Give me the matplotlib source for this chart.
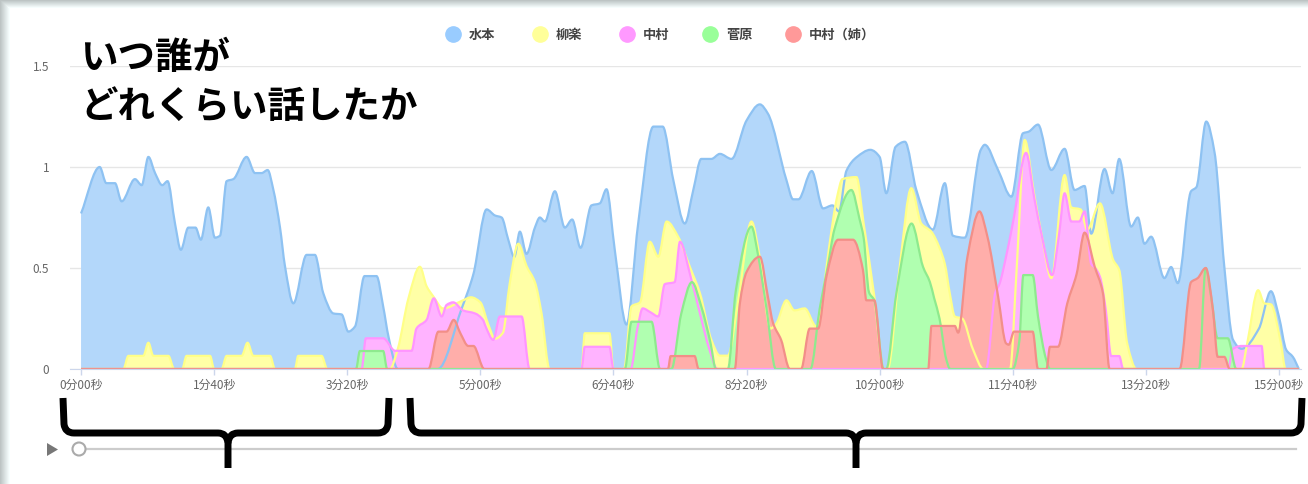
import numpy as np
import matplotlib
matplotlib.use("Agg")
import matplotlib.pyplot as plt
from matplotlib.path import Path
from matplotlib.patches import PathPatch, Rectangle, Polygon, Circle
from matplotlib.lines import Line2D

plt.rcParams['font.family'] = ['Noto Sans CJK JP', 'DejaVu Sans']

# 秒ごとの発話量
names = ['水本', '柳楽', '中村', '菅原', '中村（姉）']

mizumoto_t = [0, 14, 19, 25.5, 30.5, 40.5, 45.6, 50.6, 55.6, 61, 65, 70.6, 75, 80.6, 86, 90, 95.6,
              100.6, 104.4, 109.4, 114.4, 124.4, 130.7, 135.7, 140.2, 144.4, 149.5, 153.2, 159.5,
              169.5, 175.7, 182, 189.6, 195.8, 200.8, 205.8, 213, 222, 227, 231, 238, 268, 286,
              294.8, 304.7, 311, 316, 321, 325.5, 329.7, 334.7, 341, 344.7, 348.5, 356, 363.5, 369,
              375.3, 383.5, 389.8, 394.8, 401, 409.8, 418.6, 430, 437, 445, 453.6, 460, 466, 473.6,
              480, 488.7, 500, 510, 516, 530, 535, 539, 549, 557.5, 564.5, 569.5, 575, 583, 593,
              600, 605, 612, 619, 627.6, 640, 649, 655, 664, 676, 679, 689, 699, 707.7, 712, 719,
              729, 739, 746.5, 754, 759, 769, 775, 780, 789, 794, 799, 804, 814, 819, 824, 834,
              838, 845.4, 851.7, 859, 865.5, 872, 885, 894, 900, 905.5, 910.5, 915]
mizumoto_v = [0.77, 1.00, 0.92, 0.92, 0.83, 0.94, 0.91, 1.05, 0.97, 0.91, 0.93, 0.72, 0.59, 0.70,
              0.70, 0.64, 0.80, 0.65, 0.66, 0.93, 0.94, 1.05, 0.97, 0.97, 0.985, 0.89, 0.70, 0.51,
              0.325, 0.565, 0.565, 0.375, 0.275, 0.27, 0.185, 0.21, 0.46, 0.46, 0.31, 0.16, 0.0,
              0.0, 0.30, 0.47, 0.79, 0.76, 0.75, 0.64, 0.555, 0.68, 0.57, 0.70, 0.75, 0.73, 0.88,
              0.70, 0.74, 0.60, 0.81, 0.82, 0.89, 0.59, 0.22, 0.72, 1.20, 1.20, 0.935, 0.72, 0.886,
              1.04, 1.04, 1.065, 1.04, 1.23, 1.31, 1.265, 0.935, 0.84, 0.84, 0.98, 0.795, 0.81,
              0.78, 0.98, 1.05, 1.085, 1.05, 0.87, 1.10, 1.125, 0.886, 0.69, 0.92, 0.66, 0.65,
              1.085, 1.11, 0.985, 0.853, 1.167, 1.175, 1.21, 0.985, 1.09, 0.886, 0.906, 0.67, 0.99,
              0.87, 1.04, 0.705, 0.75, 0.62, 0.655, 0.45, 0.505, 0.425, 0.88, 0.90, 1.225, 1.07,
              0.505, 0.145, 0.10, 0.20, 0.385, 0.26, 0.095, 0.06, 0.0]

nagira_t = [0, 31.8, 35.6, 46.8, 50.6, 54.3, 65.6, 70, 76, 79.3, 96.9, 100, 105.6, 109.4, 120.7,
            125.1, 129.4, 142, 145.7, 160.7, 163.2, 180.7, 185, 232, 238, 246, 254.6, 259.6, 264.6,
            272, 287, 293, 300, 306, 311, 317, 322, 328.5, 334.7, 341, 346, 352, 376, 378.5, 397,
            400, 408, 413.6, 420, 427.3, 433.7, 440, 448.6, 457.4, 465, 473.6, 480, 486, 494,
            503.7, 510, 518, 522.4, 530, 536, 543.7, 552.5, 556, 562, 568, 572, 582.6, 588, 596,
            603, 606, 615, 623.8, 631.3, 638.8, 645, 649, 652.7, 656.5, 662, 670, 678, 698, 703,
            709, 716, 722, 729, 739, 744, 751, 756, 765.5, 775.5, 780, 786, 793, 872, 876, 884.4,
            889, 894, 901.5, 905, 915]
nagira_v = [0, 0, 0.065, 0.065, 0.13, 0.065, 0.065, 0, 0, 0.065, 0.065, 0, 0, 0.065, 0.065, 0.13,
            0.065, 0.065, 0, 0, 0.065, 0.065, 0, 0, 0.10, 0.35, 0.506, 0.41, 0.36, 0.30, 0.34,
            0.355, 0.33, 0.22, 0.15, 0.18, 0.42, 0.62, 0.51, 0.43, 0.275, 0, 0, 0.177, 0.177, 0,
            0, 0.31, 0.33, 0.63, 0.556, 0.73, 0.655, 0.506, 0.375, 0.144, 0.066, 0.066, 0.35,
            0.73, 0.55, 0.20, 0.226, 0.34, 0.29, 0.30, 0.21, 0.30, 0.60, 0.85, 0.94, 0.95, 0.72,
            0.36, 0, 0, 0.50, 0.895, 0.72, 0.68, 0.60, 0.52, 0.375, 0.26, 0.25, 0.10, 0, 0, 0.5,
            1.134, 0.87, 0.655, 0.45, 0.96, 0.80, 0.79, 0.69, 0.82, 0.54, 0.49, 0.127, 0, 0, 0.12,
            0.39, 0.325, 0.32, 0.127, 0, 0]

nakamura_t = [0, 210.8, 214, 227, 236, 248.4, 252, 259.6, 265, 271, 274.6, 279.6, 287, 296, 302,
              304, 309.7, 314.7, 331, 337, 376, 378.5, 397, 400, 413, 418, 422, 428, 433.7, 438.6,
              446, 450, 457.5, 465, 472, 478, 680, 687, 690, 695, 701, 710, 716, 722, 729.6, 734.6,
              739, 744, 750, 754, 759, 762, 765.5, 770, 774, 780, 783, 862, 865, 872, 887, 889, 915]
nakamura_v = [0, 0, 0.152, 0.152, 0.09, 0.09, 0.20, 0.243, 0.35, 0.26, 0.317, 0.33, 0.29, 0.275,
              0.243, 0.21, 0.144, 0.26, 0.26, 0, 0, 0.11, 0.11, 0, 0, 0.20, 0.30, 0.28, 0.26, 0.42,
              0.43, 0.63, 0.47, 0.275, 0.10, 0, 0, 0.38, 0.42, 0.556, 0.754, 1.07, 0.853, 0.655,
              0.465, 0.655, 0.87, 0.73, 0.73, 0.78, 0.52, 0.50, 0.457, 0.29, 0.064, 0.064, 0, 0,
              0.097, 0.114, 0.114, 0, 0]

sugawara_t = [0, 206.6, 209.5, 227, 230, 408.6, 413.6, 428.6, 435, 443.6, 451, 459, 466, 473, 477,
              486, 492, 503.7, 508.5, 515, 522, 548, 555, 561, 566, 578.8, 585, 588, 592, 596, 603,
              605, 612.6, 624, 632.6, 637.8, 641, 645, 650, 653, 700, 705, 708, 715, 719, 725, 728,
              840, 845, 849, 854, 861.6, 868, 915]
sugawara_v = [0, 0, 0.089, 0.089, 0, 0, 0.234, 0.234, 0, 0, 0.275, 0.43, 0.31, 0.127, 0, 0, 0.39,
              0.705, 0.57, 0.30, 0, 0, 0.30, 0.506, 0.69, 0.886, 0.74, 0.65, 0.38, 0.34, 0, 0,
              0.375, 0.72, 0.506, 0.43, 0.35, 0.25, 0.05, 0, 0, 0.14, 0.465, 0.465, 0.26, 0.05, 0,
              0, 0.50, 0.36, 0.152, 0.152, 0, 0]

nakamura_ane_t = [0, 261, 268.5, 274.6, 280, 285, 291, 294.8, 303, 441, 443, 461, 464, 491.2, 495,
                  500, 510, 516, 520, 526, 532.5, 541, 547.5, 553.8, 560, 568.8, 580, 587.5, 590,
                  596, 602.6, 636.5, 639, 656.5, 659, 666, 675, 681, 689, 695, 697, 701, 715, 719,
                  725.4, 728, 734, 741, 748, 754, 761.6, 767.8, 772.8, 825.4, 834, 839, 845, 850.5,
                  854, 859, 863, 915]
nakamura_ane_v = [0, 0, 0.185, 0.185, 0.243, 0.177, 0.114, 0.114, 0, 0, 0.064, 0.064, 0, 0, 0.325,
                  0.48, 0.556, 0.36, 0.226, 0.144, 0, 0, 0.20, 0.20, 0.457, 0.64, 0.64, 0.49, 0.34,
                  0.34, 0, 0, 0.213, 0.213, 0.18, 0.556, 0.78, 0.655, 0.36, 0.127, 0.12, 0.185,
                  0.185, 0, 0, 0.11, 0.11, 0.325, 0.47, 0.675, 0.506, 0.375, 0, 0, 0.43, 0.45, 0.5,
                  0.29, 0.06, 0.06, 0, 0]

tick_secs = [0, 100, 200, 300, 400, 500, 600, 700, 800, 900]
tick_labels = ['0分00秒', '1分40秒', '3分20秒', '5分00秒', '6分40秒', '8分20秒',
               '10分00秒', '11分40秒', '13分20秒', '15分00秒']

series = [(mizumoto_t, mizumoto_v), (nagira_t, nagira_v), (nakamura_t, nakamura_v),
          (sugawara_t, sugawara_v), (nakamura_ane_t, nakamura_ane_v)]
dot_colors = ['#99ccff', '#ffff99', '#ff99ff', '#99ff99', '#ff9999']
fill_colors = ['#b3d7fa', '#ffffa6', '#ffb3ff', '#b0ffb0', '#ffaeaa']
line_colors = ['#8ec2f2', '#ffff88', '#ff95ff', '#8eea8e', '#f28f88']


def smooth_path(t, v):
    # 単調3次エルミート曲線をベジェに変換（EChartsのsmooth表示に近づける）
    t = np.asarray(t, float)
    v = np.asarray(v, float)
    h = np.diff(t)
    d = np.diff(v) / h
    m = np.zeros_like(v)
    m[0] = d[0]
    m[-1] = d[-1]
    for i in range(1, len(v) - 1):
        if d[i - 1] * d[i] <= 0:
            m[i] = 0
        else:
            w1 = 2 * h[i] + h[i - 1]
            w2 = h[i] + 2 * h[i - 1]
            m[i] = (w1 + w2) / (w1 / d[i - 1] + w2 / d[i])
    verts = [(t[0], v[0])]
    codes = [Path.MOVETO]
    for i in range(len(h)):
        verts += [(t[i] + h[i] / 3, v[i] + m[i] * h[i] / 3),
                  (t[i + 1] - h[i] / 3, v[i + 1] - m[i + 1] * h[i] / 3),
                  (t[i + 1], v[i + 1])]
        codes += [Path.CURVE4] * 3
    return verts, codes


W, H = 1308, 484
fig = plt.figure(figsize=(W / 100, H / 100), dpi=100, facecolor='white')
ax = fig.add_axes([70 / W, (H - 369) / H, 1231 / W, 303 / H])

for (t, v), fc, lc in zip(series, fill_colors, line_colors):
    verts, codes = smooth_path(t, v)
    fverts = verts + [(t[-1], 0), (t[0], 0), (t[0], v[0])]
    fcodes = codes + [Path.LINETO, Path.LINETO, Path.CLOSEPOLY]
    ax.add_patch(PathPatch(Path(fverts, fcodes), facecolor=fc, edgecolor='none', zorder=2))
    ax.add_patch(PathPatch(Path(verts, codes), facecolor='none', edgecolor=lc, lw=1.6,
                           joinstyle='round', zorder=3))

ax.set_xlim(-8.3, 916.6)
ax.set_ylim(0, 1.5)
ax.set_xticks(tick_secs)
ax.set_xticklabels(tick_labels)
ax.set_yticks([0, 0.5, 1, 1.5])
ax.set_yticklabels(['0', '0.5', '1', '1.5'])
ax.tick_params(axis='x', colors='#ccd6eb', length=4, width=1, labelcolor='#666666',
               labelsize=8.5, pad=3)
ax.tick_params(axis='y', length=0, labelcolor='#666666', labelsize=8.5, pad=15)
ax.grid(axis='y', color='#e6e6e6', lw=1)
ax.set_axisbelow(True)
for s in ['top', 'right', 'left']:
    ax.spines[s].set_visible(False)
ax.spines['bottom'].set_color('#ccd6eb')
ax.spines['bottom'].set_zorder(4)

# 凡例
legend_x = [453, 540, 627, 710, 793]
for x, name, c in zip(legend_x, names, dot_colors):
    fig.add_artist(Line2D([x / W], [1 - 34 / H], marker='o', markersize=11, color=c,
                          lw=0, transform=fig.transFigure))
    fig.text((x + 16) / W, 1 - 35 / H, name, fontsize=9.5, color='#444444',
             fontweight='bold', va='center', ha='left')

# 装飾（ピクセル座標）
ov = fig.add_axes([0, 0, 1, 1], facecolor='none')
ov.set_xlim(0, W)
ov.set_ylim(H, 0)
ov.axis('off')

for i in range(10):
    g = min(0.74 + 0.026 * i, 0.97)
    ov.add_patch(Rectangle((i, 0), 1, H, color=(g, g + 0.03, g + 0.03), lw=0))
for i in range(8):
    g = min(0.74 + 0.032 * i, 0.97)
    ov.add_patch(Rectangle((i + 1, i), W, 1, color=(g, g + 0.03, g + 0.03), lw=0))

ov.text(80, 58, 'いつ誰が', fontsize=27, fontweight='bold', color='black',
        ha='left', va='center')
ov.text(80, 107, 'どれくらい話したか', fontsize=27, fontweight='bold', color='black',
        ha='left', va='center')

# 再生ボタンとスライダー
ov.add_patch(Polygon([(47, 443), (47, 456), (58, 449.5)], closed=True, color='#777777', lw=0))
ov.plot([86, 1296], [449, 449], color='#cccccc', lw=1.6)
ov.add_patch(Circle((79, 449), 6.5, facecolor='white', edgecolor='#aaaaaa', lw=1.5, zorder=5))


def brace(x0, x1, xc, top=398, bar=433, tip=468):
    r = 9
    left = Path([(x0, top), (x0 + 1, bar - r), (x0 + 2, bar), (x0 + r + 2, bar),
                 (xc - 10, bar), (xc - 1, bar), (xc, bar + 10), (xc, tip)],
                [Path.MOVETO, Path.LINETO, Path.CURVE3, Path.CURVE3,
                 Path.LINETO, Path.CURVE3, Path.CURVE3, Path.LINETO])
    right = Path([(x1, top), (x1 - 1, bar - r), (x1 - 2, bar), (x1 - r - 2, bar),
                  (xc + 10, bar), (xc + 1, bar), (xc, bar + 10)],
                 [Path.MOVETO, Path.LINETO, Path.CURVE3, Path.CURVE3,
                  Path.LINETO, Path.CURVE3, Path.CURVE3])
    for p in (left, right):
        ov.add_patch(PathPatch(p, facecolor='none', edgecolor='black', lw=5,
                               capstyle='butt', joinstyle='round', zorder=6))


brace(63, 389, 228)
brace(410, 1302, 856)

fig.savefig('out.png', dpi=100)
